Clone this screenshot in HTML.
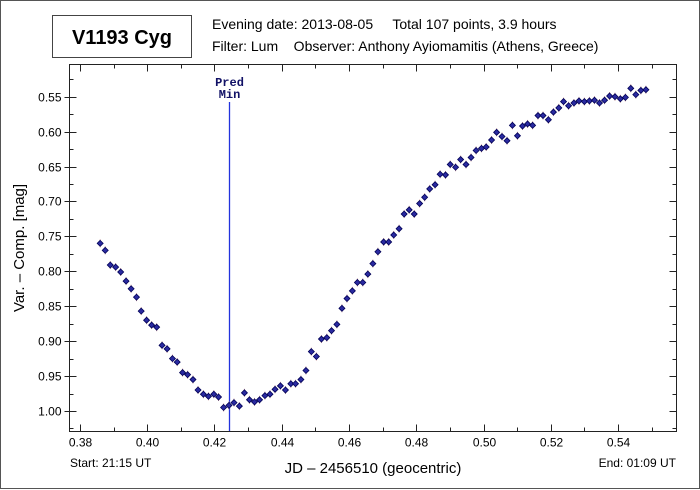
<!DOCTYPE html>
<html><head><meta charset="utf-8"><style>
body{margin:0;background:#fff}
svg{display:block;font-family:"Liberation Sans",Arial,sans-serif}
</style></head><body>
<svg id="chart" width="700" height="490" viewBox="0 0 700 490" xmlns="http://www.w3.org/2000/svg">
<rect x="0.5" y="0.5" width="699" height="488" fill="#fff" stroke="#555"/>
<rect x="52.5" y="15.5" width="139" height="42" fill="#fff" stroke="#444"/>
<text x="122" y="44" text-anchor="middle" font-size="20" font-weight="bold">V1193 Cyg</text>
<text x="212" y="29" font-size="14">Evening date: 2013-08-05&#160;&#160;&#160;&#160; Total 107 points, 3.9 hours</text>
<text x="212" y="51" font-size="14">Filter: Lum&#160;&#160;&#160; Observer: Anthony Ayiomamitis (Athens, Greece)</text>
<g id="axes"></g>
<g id="marks"></g>
<rect x="69.5" y="64.5" width="607" height="367" fill="none" stroke="#222"/>
<text x="70" y="467" font-size="12">Start: 21:15 UT</text>
<text x="676" y="467" font-size="12" text-anchor="end">End: 01:09 UT</text>
<text x="373" y="473" font-size="15" text-anchor="middle">JD – 2456510  (geocentric)</text>
<text transform="translate(24,248) rotate(-90)" font-size="15" text-anchor="middle">Var. – Comp. [mag]</text>
</svg>
<script>
const xTicks = [0.38,0.40,0.42,0.44,0.46,0.48,0.50,0.52,0.54];
const xTickLabels = ["0.38","0.40","0.42","0.44","0.46","0.48","0.50","0.52","0.54"];
const yTicks = [0.55,0.60,0.65,0.70,0.75,0.80,0.85,0.90,0.95,1.00];
const yTickLabels = ["0.55","0.60","0.65","0.70","0.75","0.80","0.85","0.90","0.95","1.00"];
const predMin = 0.4242;
const jd = [0.3860,0.3875,0.3890,0.3906,0.3921,0.3937,0.3952,0.3968,0.3982,0.3998,0.4013,0.4028,0.4044,0.4059,0.4075,0.4089,0.4105,0.4120,0.4136,0.4151,0.4167,0.4182,0.4198,0.4212,0.4227,0.4243,0.4258,0.4274,0.4289,0.4304,0.4319,0.4334,0.4350,0.4365,0.4380,0.4396,0.4411,0.4427,0.4441,0.4457,0.4472,0.4488,0.4503,0.4518,0.4534,0.4548,0.4564,0.4579,0.4594,0.4610,0.4625,0.4641,0.4656,0.4671,0.4686,
0.4703,0.4718,0.4733,0.4749,0.4764,0.4779,0.4794,0.4810,0.4825,0.4840,0.4856,0.4871,0.4887,0.4901,0.4917,0.4932,0.4948,0.4963,0.4978,0.4994,0.5008,0.5024,0.5039,0.5055,0.5070,0.5086,0.5101,0.5116,0.5131,0.5146,0.5162,0.5177,0.5193,0.5208,0.5224,0.5238,0.5253,0.5269,0.5284,0.5300,0.5315,0.5330,0.5345,0.5360,0.5375,0.5391,0.5407,0.5422,0.5438,0.5453,0.5468,0.5483];
const mag = [0.760,0.770,0.791,0.794,0.801,0.814,0.825,0.837,0.857,0.870,0.877,0.880,0.906,0.911,0.925,0.930,0.945,0.948,0.955,0.970,0.976,0.979,0.976,0.980,0.995,0.992,0.988,0.993,0.974,0.984,0.987,0.984,0.978,0.976,0.969,0.964,0.970,0.961,0.961,0.955,0.942,0.915,0.922,0.897,0.895,0.885,0.876,0.853,0.839,0.828,0.816,0.816,0.804,0.789,0.772,
0.758,0.758,0.748,0.739,0.718,0.712,0.718,0.703,0.694,0.682,0.676,0.661,0.662,0.647,0.651,0.640,0.647,0.637,0.627,0.624,0.622,0.612,0.601,0.607,0.613,0.591,0.606,0.592,0.589,0.591,0.577,0.577,0.583,0.572,0.566,0.557,0.563,0.559,0.556,0.557,0.556,0.555,0.559,0.555,0.549,0.550,0.553,0.551,0.538,0.547,0.541,0.540];

const NS="http://www.w3.org/2000/svg";
const L=69.5,R=676.5,T=64.5,B=431.5;
const xS=v=>80+(v-0.38)*3362.5;
const yS=v=>96.7+(v-0.55)*698.4;
function mk(tag,attrs,parent){const e=document.createElementNS(NS,tag);for(const k in attrs)e.setAttribute(k,attrs[k]);parent.appendChild(e);return e;}
const axes=document.getElementById('axes'), marks=document.getElementById('marks');
// x ticks (major + minor)
xTicks.forEach((v,i)=>{
  const x=Math.round(xS(v))+0.5;
  let t=mk('path',{d:`M${x},${B}v-7M${x},${T}v7`,stroke:'#222','stroke-width':1},axes);
  
  
  let lb=mk('text',{x:x,y:B+15,'font-size':12,'text-anchor':'middle'},axes);
  lb.textContent=xTickLabels[i];
  
  
  const xm=Math.round(xS(v+0.01))+0.5;
  if(xm<R){let m=mk('path',{d:`M${xm},${B}v-4M${xm},${T}v4`,stroke:'#222'},axes);
  
  }
});
yTicks.forEach((v,i)=>{
  const y=Math.round(yS(v))+0.5;
  let t=mk('path',{d:`M${L-5},${y}h12M${R},${y}h-7`,stroke:'#222'},axes);
  
  
  let lb=mk('text',{x:L-8,y:y+4,'font-size':12,'text-anchor':'end'},axes);
  lb.textContent=yTickLabels[i];
  
  
  [v-0.025,v+0.025].forEach(mv=>{const ym=Math.round(yS(mv))+0.5;
    if(ym>T+1&&ym<B-1){let m=mk('path',{d:`M${L},${ym}h4M${R},${ym}h-4`,stroke:'#222'},axes);
    
    }});
});
// pred min line
const px=Math.round(xS(predMin))+0.5;
let pl=mk('line',{x1:px,x2:px,y1:102,y2:B,stroke:'#2233dd','stroke-width':1.3},marks);


let pt1=mk('text',{x:px,y:86,'font-size':12,'font-weight':'bold','text-anchor':'middle',fill:'#111166','font-family':'Liberation Mono,monospace'},marks);
pt1.textContent='Pred';


let pt2=mk('text',{x:px,y:98,'font-size':12,'font-weight':'bold','text-anchor':'middle',fill:'#111166','font-family':'Liberation Mono,monospace'},marks);
pt2.textContent='Min';


// points
jd.forEach((v,i)=>{
  const x=xS(v), y=yS(mag[i]);
  let eb=mk('line',{x1:x,x2:x,y1:y-4,y2:y+4,stroke:'#c99','stroke-width':1},marks);
  
  
  let d=mk('path',{d:`M${x},${y-3}L${x+3},${y}L${x},${y+3}L${x-3},${y}Z`,fill:'#2a2aa0',stroke:'#000055','stroke-width':0.8},marks);
  
  
});
</script>
</body></html>
